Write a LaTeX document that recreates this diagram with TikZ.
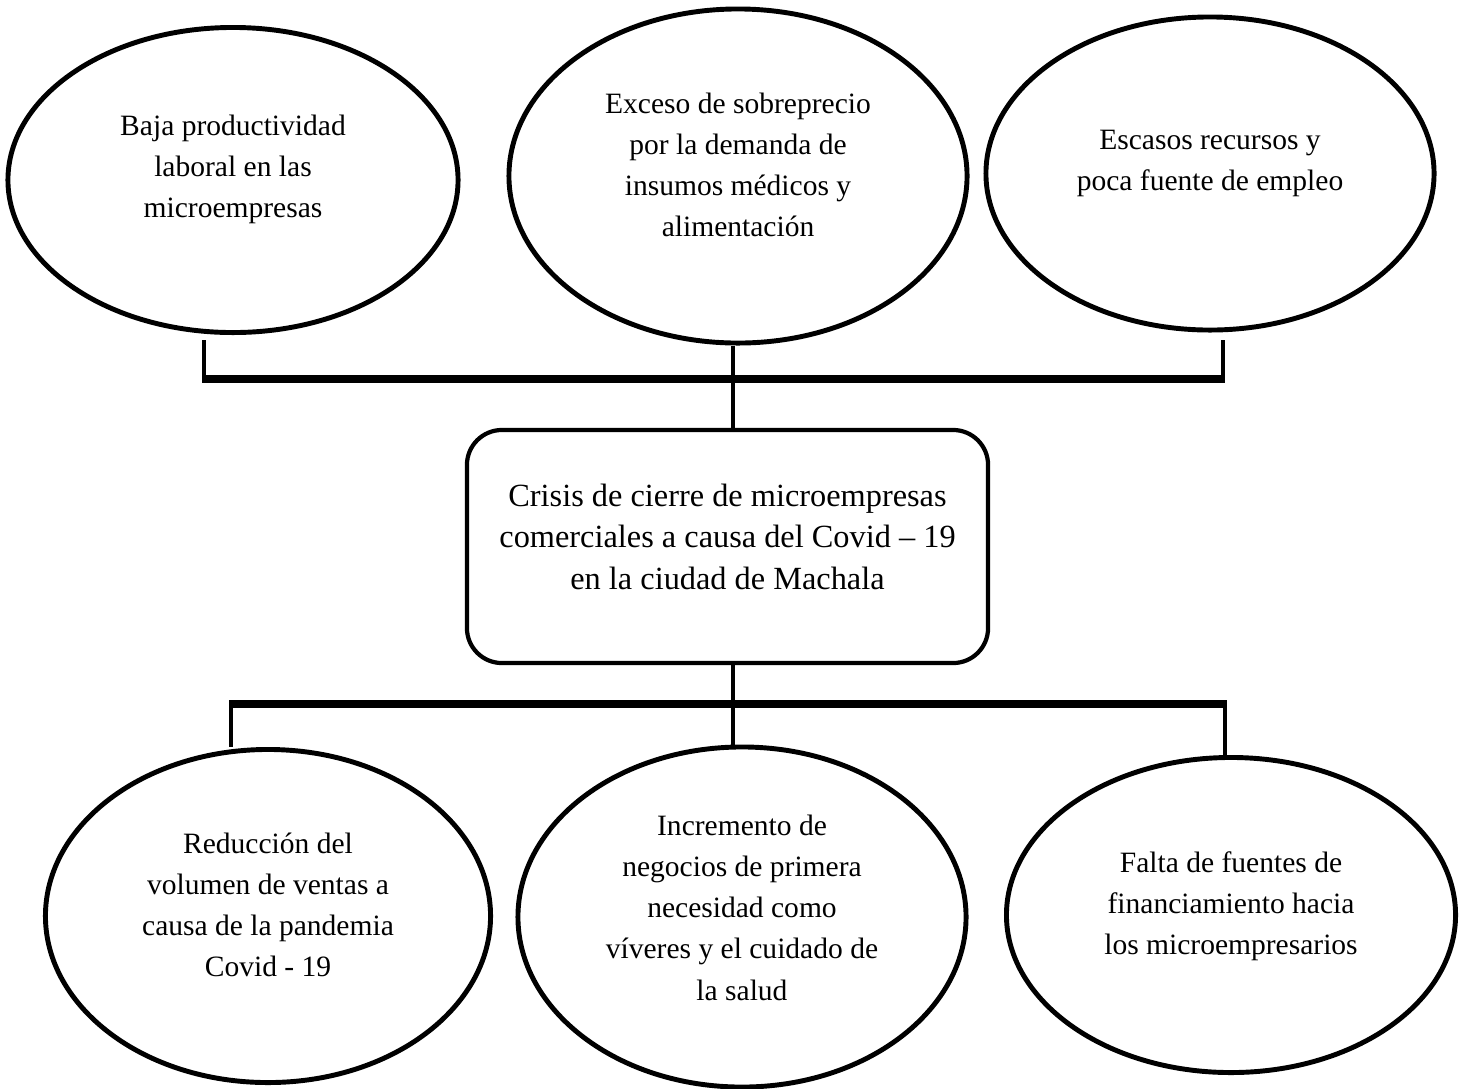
\documentclass[tikz,border=0pt]{standalone}
\usepackage{fontspec}
\setmainfont{Liberation Serif}
\usetikzlibrary{shapes.geometric,positioning}
\newcommand{\causa}{\fontsize{21}{29.2}\selectfont}
\newcommand{\crisis}{\fontsize{23}{29.2}\selectfont}

\begin{document}
\begin{tikzpicture}[x=0.025cm, y=-0.025cm,
    oval/.style={draw, ellipse, line width=3.5pt, inner sep=0pt},
    txt/.style={align=center, font=\causa, inner sep=0pt},
    conn/.style={line width=2.5pt},
    bar/.style={line width=6pt}]
    \useasboundingbox (0,0) rectangle (1464,1088);

    % causas
    \node[oval, minimum width=11.25cm, minimum height=7.625cm] (e1) at (233,180) {};
    \node[oval, minimum width=11.45cm, minimum height=8.35cm] (e2) at (738,176) {};
    \node[oval, minimum width=11.2cm, minimum height=7.825cm] (e3) at (1210,173.5) {};
    \node[txt] (e1t) at ([yshift=0.27cm]e1.center) {Baja productividad\\laboral en las\\microempresas};
    \node[txt] (e2t) at ([yshift=0.28cm]e2.center) {Exceso de sobreprecio\\por la demanda de\\insumos médicos y\\alimentación};
    \node[txt] (e3t) at ([yshift=0.26cm]e3.center) {Escasos recursos y\\poca fuente de empleo};

    % problema
    \node[draw, rounded corners=0.875cm, line width=3pt, minimum width=13.025cm,
          minimum height=5.825cm] (box) at (727.5,546.5) {};
    \node[txt, font=\crisis] (boxt) at ([yshift=0.24cm]box.center)
        {Crisis de cierre de microempresas\\comerciales a causa del Covid -- 19\\en la ciudad de Machala};

    % efectos
    \node[oval, minimum width=11.125cm, minimum height=8.325cm] (b1) at (268,916) {};
    \node[oval, minimum width=11.2cm, minimum height=8.5cm] (b2) at (742,917) {};
    \node[oval, minimum width=11.225cm, minimum height=7.875cm] (b3) at (1231,915) {};
    \node[txt] (b1t) at ([yshift=0.27cm]b1.center) {Reducción del\\volumen de ventas a\\causa de la pandemia\\Covid - 19};
    \node[txt] (b2t) at ([yshift=0.23cm]b2.center) {Incremento de\\negocios de primera\\necesidad como\\víveres y el cuidado de\\la salud};
    \node[txt] (b3t) at ([yshift=0.23cm]b3.center) {Falta de fuentes de\\financiamiento hacia\\los microempresarios};

    \coordinate (t1) at (204,340);
    \coordinate (t3) at (1223,340);
    \coordinate (tl) at (204,379);
    \coordinate (tm) at (733,379);
    \coordinate (tr) at (1223,379);
    \coordinate (bl) at (231,704);
    \coordinate (bm) at (733,704);
    \coordinate (br) at (1225,704);

    \draw[conn] (t1) -- (tl);
    \draw[conn] (t3) -- (tr);
    \draw[bar] ([xshift=-1.2pt]tl) -- ([xshift=1.2pt]tr);
    \draw[conn] (e2.south -| tm) -- (box.north -| tm);

    \draw[conn] (box.south -| bm) -- (b2.north -| bm);
    \draw[bar] ([xshift=-1.2pt]bl) -- ([xshift=1.2pt]br);
    \draw[conn] (bl) -- (b1.north -| bl);
    \draw[conn] (br) -- (b3.north -| br);
\end{tikzpicture}
\end{document}
